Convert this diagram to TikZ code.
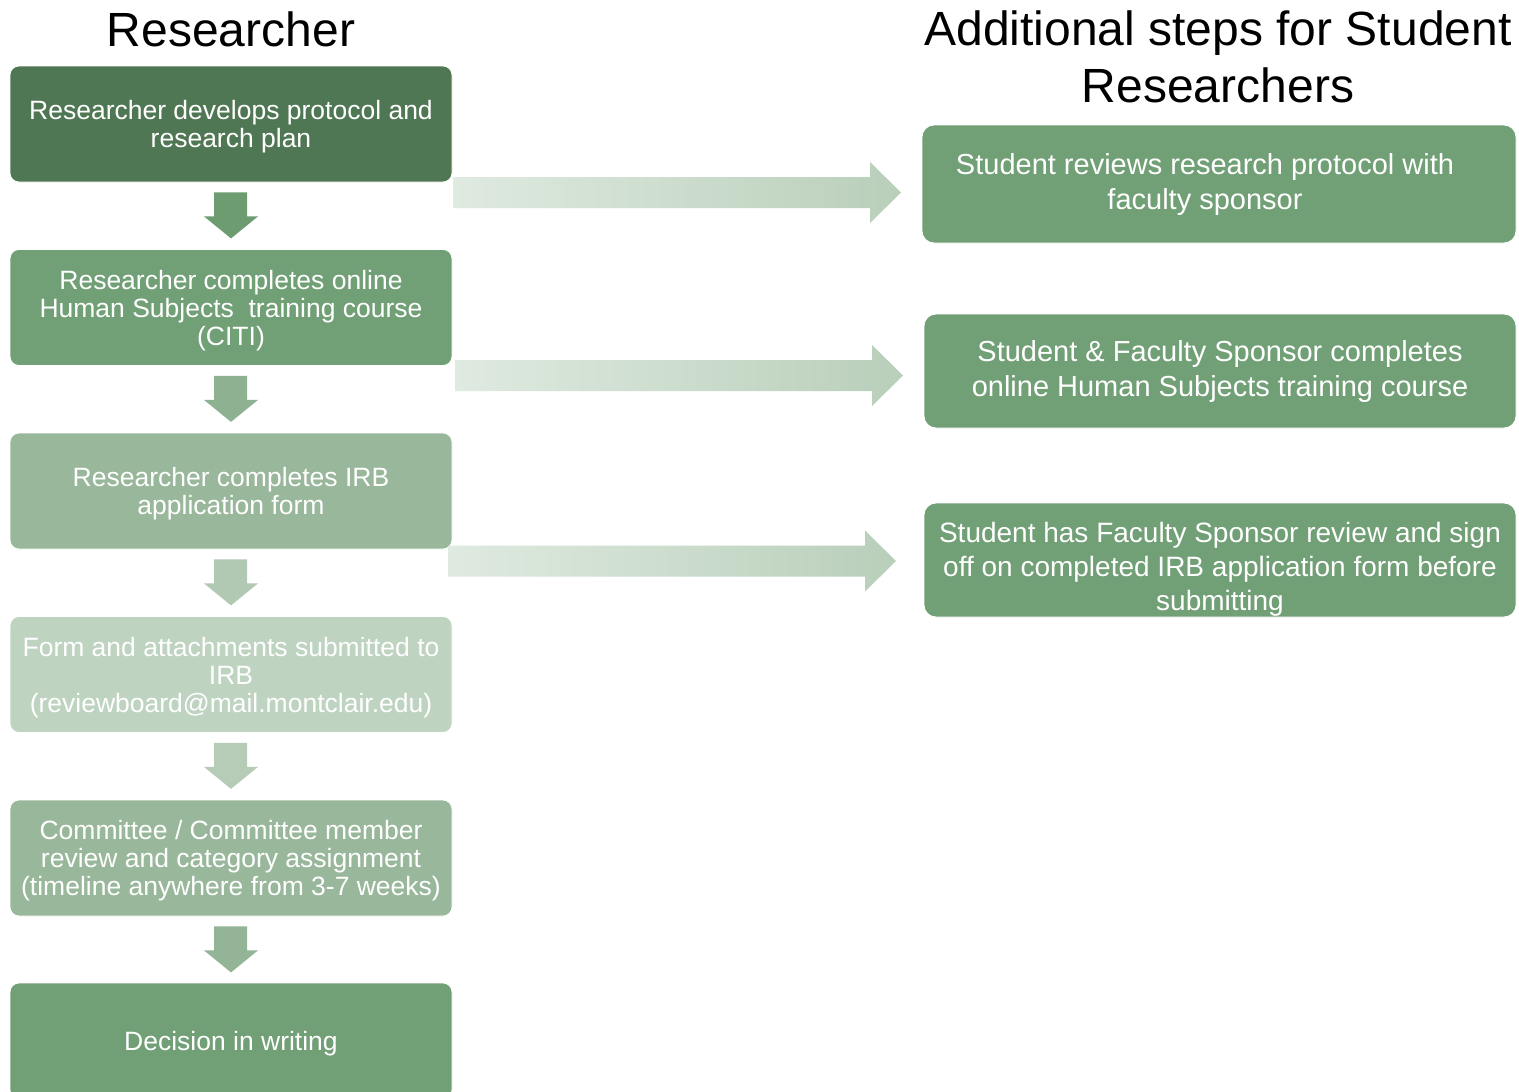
\documentclass[tikz,border=0pt]{standalone}
\usepackage{fontspec}
\setmainfont{Liberation Sans}
\definecolor{cA}{HTML}{507753}
\definecolor{cB}{HTML}{719F76}
\definecolor{cC}{HTML}{99B79B}
\definecolor{cD}{HTML}{BFD3C1}
\definecolor{aA}{HTML}{6D9C71}
\definecolor{aB}{HTML}{8EB191}
\definecolor{aC}{HTML}{B1C9B3}
\definecolor{aD}{HTML}{B6CCB7}
\definecolor{aE}{HTML}{93B496}
\definecolor{gL}{HTML}{DFEAE0}
\definecolor{gR}{HTML}{B9CFBA}
\newcommand{\downarr}[2]{%
  \begin{scope}[shift={(#1.south)}]
    \fill[#2] (-17,10) -- (16,10) -- (16,34) -- (27,34) -- (0,56) -- (-27,34) -- (-17,34) -- cycle;
  \end{scope}}
\newcommand{\harr}[3]{%
  \shade[left color=gL, right color=gR]
    (#1,#3-15.5) -- (#2-31,#3-15.5) -- (#2-31,#3-30.5) -- (#2,#3) -- (#2-31,#3+30.5) -- (#2-31,#3+15.5) -- (#1,#3+15.5) -- cycle;}
\newcommand{\lift}{\rule{0pt}{25pt}}
\begin{document}
\begin{tikzpicture}[x=1pt,y=-1pt,
  lbox/.style={rounded corners=9pt, draw=white, line width=0.8pt, text=white, align=center,
    minimum width=442pt, minimum height=116pt, inner sep=0pt, font=\fontsize{26.5}{28}\selectfont},
  rbox/.style={rounded corners=12pt, draw=white, line width=0.8pt, fill=cB, text=white, align=center,
    minimum width=594pt, inner sep=0pt, font=\fontsize{29}{35}\selectfont},
  ttl/.style={align=center, inner sep=0pt, text=black, font=\fontsize{48}{57}\selectfont}]
\useasboundingbox (0,0) rectangle (1519,1092);
\fill[white] (0,0) rectangle (1519,1092);
\begin{scope}
\clip (0,0) rectangle (1519,1092);
% titles
\node[ttl] (t1) at (231,29) {Researcher};
\node[ttl] (t2) at (1218,57) {Additional steps for Student\\Researchers};
% left column
\node[lbox, fill=cA] (b1) at (231,124) {\lift Researcher develops protocol and\\research plan};
\node[lbox, fill=cB] (b2) at (231,307.5) {\lift Researcher completes online\\Human Subjects\ \ training course\\(CITI)};
\node[lbox, fill=cC] (b3) at (231,491) {\lift Researcher completes IRB\\application form};
\node[lbox, fill=cD] (b4) at (231,674.5) {\lift Form and attachments submitted to\\IRB\\(reviewboard@mail.montclair.edu)};
\node[lbox, fill=cC] (b5) at (231,858) {\lift Committee / Committee member\\review and category assignment\\(timeline anywhere from 3-7 weeks)};
\node[lbox, fill=cB] (b6) at (231,1041) {\lift Decision in writing};
\downarr{b1}{aA}
\downarr{b2}{aB}
\downarr{b3}{aC}
\downarr{b4}{aD}
\downarr{b5}{aE}
% right column
\node[rbox, minimum height=118pt] (r1) at (1219,184) {Student reviews research protocol with\hspace*{28pt}\\faculty sponsor\hspace*{28pt}};
\node[rbox, minimum height=114pt, minimum width=592pt] (r2) at (1220,371) {Student \& Faculty Sponsor completes\\online Human Subjects training course};
\node[rbox, minimum height=114pt, minimum width=592pt, font=\fontsize{28}{34}\selectfont] (r3) at (1220,560) {\rule{0pt}{38pt}Student has Faculty Sponsor review and sign\\off on completed IRB application form before\\submitting};
% horizontal block arrows
\harr{453}{901}{192.5}
\harr{455}{903}{375.5}
\harr{448}{896}{561}
\end{scope}
\end{tikzpicture}
\end{document}
